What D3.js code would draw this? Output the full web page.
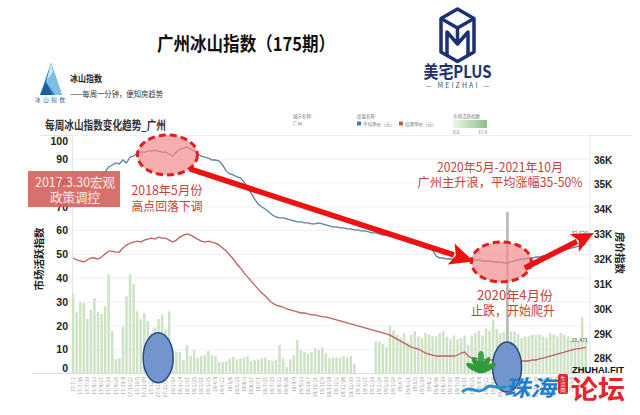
<!DOCTYPE html>
<html><head><meta charset="utf-8">
<script src="https://cdn.jsdelivr.net/npm/d3@7"></script>
<style>
html,body{margin:0;padding:0;background:#fff;}
svg{display:block;font-family:"Noto Sans CJK SC","Noto Sans",sans-serif;}
</style></head><body>
<svg id="c" width="640" height="415"></svg>
<script>
// ---------------- data ----------------
const startWeek = "2017-07-02";
const activity = [33.5,25.7,30,29.7,22.9,26.7,31.7,26,25,28.3,
41.7,17.9,6,6.4,19.7,32.4,41.7,37.6,26.1,22.9,
25.3,22.1,17,19.3,22.9,24.7,18.6,26.1,10,9,
9.1,5.6,12,7.3,10,6.7,7.3,7.7,9.6,7.7,
7.3,4.9,4.9,5.3,6.3,7,5.9,6.3,6.7,7.3,
5.3,5.6,5.9,6.3,6.7,5.6,5.3,5.9,12,6.3,
2.7,5.9,7.7,14.1,9.9,9.1,8.4,9.1,10.6,9.9,
11,8.4,6.5,6.7,6.7,6.7,7.3,6.7,7.3,4.1,
0,0,0,0,0,13.4,13.4,12.4,11.3,20.1,
18.1,16.3,14.9,17,13.4,16.3,17.7,15.6,14.9,17,
16.3,15.6,15.6,17,17.7,15.6,14.4,16,14.4,15,
16,12,16,17,18,16,19,18,22.7,18.7,
17,17.7,68,17.7,17.7,16.7,14.9,15.6,15.6,16.3,
16.3,16.3,15.6,15,17,16.3,15.6,17,16.3,15.6,
14.1,14,13.5,23.7,15];
const avgPrice = [null,null,null,null,null,null,null,null,35320,35520,
35720,35800,35880,35840,36000,35880,36120,36160,36280,36320,
36320,36360,36360,36400,36360,36320,36320,36240,36160,36320,
36440,36480,36520,36440,36360,36240,36160,36120,36080,36000,
36000,35960,35800,35560,35440,35400,35320,35280,35120,34910,
34670,34430,34230,34110,34030,33910,33790,33710,33670,33670,
33630,33590,33550,33510,33510,33470,33470,33430,33430,33470,
33430,33390,33350,33310,33310,33270,33270,33230,33230,33190,
33190,33150,33150,33110,33070,33070,33030,32980,32980,32940,
32900,32900,32860,32820,32780,32740,32700,32660,32620,32540,
32460,32380,32140,32060,32060,32020,32020,32020,31980,31980,
31980,31980,31980,31980,31980,31940,31940,31940,31900,31900,
31900,31860,31860,31900,31940,31980,32020,32020,32060,32060,
32100,32100,32140,32140,32180,32220,32260,32340,32380,32420,
32460,32500,32540,32580,32620];
const listPrice = [32060,31980,31940,31900,31980,32060,32060,32020,32100,32220,
32340,32340,32300,32300,32460,32580,32660,32700,32740,32700,
32780,32820,32860,32820,32900,32860,32860,32780,32700,32780,
32900,32980,33030,32980,32900,32820,32740,32700,32740,32700,
32660,32580,32460,32340,32180,32020,31820,31660,31460,31300,
31140,30970,30810,30650,30530,30370,30250,30170,30130,30090,
30010,29970,29930,29890,29850,29850,29810,29770,29770,29730,
29690,29690,29650,29610,29570,29530,29490,29450,29410,29370,
29330,29290,29250,29210,29170,29130,29090,29050,29010,28960,
28880,28800,28720,28640,28560,28480,28440,28400,28320,28240,
28200,28160,28120,28120,28120,28120,28120,28120,28160,28240,
28280,28120,28040,28040,28000,28000,27960,27960,27960,27920,
27920,27920,27920,27920,27920,27920,27920,27920,27920,27960,
27960,28000,28040,28080,28120,28160,28200,28240,28280,28320,
28360,28400,28420,28440,28471];
const highlightedWeek = 122;
const leftTicks = [0,10,20,30,40,50,60,70,80,90,100];
const rightTicks = [28000,29000,30000,31000,32000,33000,34000,35000,36000];
const rightTickLabels = ["28K","29K","30K","31K","32K","33K","34K","35K","36K"];
const weeks = d3.range(activity.length).map(i => d3.timeFormat("%y/%-m/%-d")(d3.timeWeek.offset(d3.timeParse("%Y-%m-%d")(startWeek), i)));

// ---------------- scales ----------------
const svg = d3.select("#c");
const x = d3.scaleBand().domain(d3.range(activity.length)).range([71.3, 587.5]).paddingInner(0.3).paddingOuter(0.15);
const yL = d3.scaleLinear().domain([0, 100]).range([373.5, 135.5]);
const yR = d3.scaleLinear().domain([27417, 36985]).range([373.5, 135.5]);
const cx = i => x(0) + x.bandwidth()/2 + i * x.step();

// header
svg.append("text").attr("x",246).attr("y",51).attr("text-anchor","middle")
  .attr("font-size",19).attr("font-weight","bold").attr("fill","#111")
  .attr("textLength",178).attr("lengthAdjust","spacingAndGlyphs").text("广州冰山指数（175期）");

// right logo
const navy = "#1d3170";
const lg = svg.append("g").attr("fill","none").attr("stroke",navy).attr("stroke-width",3.5).attr("stroke-linejoin","round");
lg.append("path").attr("d","M457.5,9 L474,18.5 L474,52 L457.5,61.5 L441,52 L441,18.5 Z");
lg.append("path").attr("d","M441,18.5 L457.5,28 L474,18.5 M447,55 L447,32 L457.5,44 L468,32 L468,55 M457.5,28 L457.5,44");
svg.append("text").attr("x",457.5).attr("y",78).attr("text-anchor","middle").attr("font-size",17).attr("font-weight","bold")
  .attr("fill",navy).attr("textLength",68).attr("lengthAdjust","spacingAndGlyphs").text("美宅PLUS");
svg.append("text").attr("x",457.5).attr("y",88).attr("text-anchor","middle").attr("font-size",7)
  .attr("fill","#44507a").attr("textLength",64).attr("lengthAdjust","spacing").text("— MEIZHAI —");

// left logo (iceberg)
const ic = svg.append("g");
ic.append("path").attr("d","M51,63 L40,95 L62,95 Z").attr("fill","#2b7cc0");
ic.append("path").attr("d","M51,63 L46,82 L55,95 L62,95 Z").attr("fill","#7fbfe6");
ic.append("path").attr("d","M51,63 L53,72 L47,80 Z").attr("fill","#cfe8f7");
ic.append("path").attr("d","M40,95 L46,82 L52,95 Z").attr("fill","#1d5f9c");
svg.append("text").attr("x",50).attr("y",102).attr("text-anchor","middle").attr("font-size",5.5).attr("fill","#2b5e9a").attr("textLength",30).text("冰 山 指 数");
svg.append("text").attr("x",70).attr("y",82).attr("font-size",9).attr("font-weight","bold").attr("fill","#222").attr("textLength",32).attr("lengthAdjust","spacingAndGlyphs").text("冰山指数");
svg.append("text").attr("x",70).attr("y",97).attr("font-size",8).attr("fill","#333").attr("textLength",93).attr("lengthAdjust","spacingAndGlyphs").text("——每周一分钟，便知房趋势");

// chart title + legend
svg.append("text").attr("x",45).attr("y",130).attr("font-size",12.5).attr("font-weight","bold").attr("fill","#333")
  .attr("textLength",121).attr("lengthAdjust","spacingAndGlyphs").text("每周冰山指数变化趋势_广州");
const tiny = (t,xx,yy,anchor) => svg.append("text").attr("x",xx).attr("y",yy).attr("font-size",4.5).attr("fill","#777").attr("text-anchor",anchor||"start").text(t);
tiny("城市名称:",293,118); tiny("广州",293,125);
tiny("度量名称",357,118);
svg.append("rect").attr("x",357).attr("y",121.5).attr("width",4).attr("height",4).attr("fill","#4e79a7");
tiny("平均单价（元）",363,125.5);
svg.append("rect").attr("x",399).attr("y",121.5).attr("width",4).attr("height",4).attr("fill","#d9534f");
tiny("挂牌单价（元）",405,125.5);
tiny("市场活跃指数",453,118);
const grad = svg.append("defs").append("linearGradient").attr("id","gr");
grad.append("stop").attr("offset","0").attr("stop-color","#eef6e8");
grad.append("stop").attr("offset","1").attr("stop-color","#8cbf84");
svg.append("rect").attr("x",453).attr("y",120).attr("width",34).attr("height",8).attr("fill","url(#gr)");
tiny("0.0",453,134); tiny("17.4",487,134,"end");

// frame lines
svg.append("line").attr("x1",40).attr("x2",632).attr("y1",135.5).attr("y2",135.5).attr("stroke","#e6e6e6");

// gridlines
svg.append("g").selectAll("line").data(leftTicks.slice(1)).join("line")
  .attr("x1",72).attr("x2",590).attr("y1",d=>yL(d)).attr("y2",d=>yL(d)).attr("stroke","#f1f1f1");
svg.append("line").attr("x1",32).attr("x2",600).attr("y1",yL(0)).attr("y2",yL(0)).attr("stroke","#dcdcdc");
svg.append("line").attr("x1",72.5).attr("x2",72.5).attr("y1",135.5).attr("y2",yL(0)).attr("stroke","#e3e3e3");
svg.append("line").attr("x1",590).attr("x2",590).attr("y1",135.5).attr("y2",yL(0)).attr("stroke","#e3e3e3");

// left axis labels
svg.append("g").selectAll("text").data(leftTicks).join("text")
  .attr("x",68).attr("y",d => d===100 ? yL(d)+5.5 : d===0 ? yL(d)-5.5 : yL(d))
  .attr("dy","0.35em").attr("text-anchor","end").attr("font-size",10.5).attr("font-weight","bold")
  .attr("font-family","Liberation Sans, Arial, sans-serif").attr("fill","#222").text(d=>d);
// right axis labels
svg.append("g").selectAll("text").data(rightTicks).join("text")
  .attr("x",594).attr("y",d=>yR(d)).attr("dy","0.35em").attr("font-size",10).attr("font-weight","bold")
  .attr("font-family","Liberation Sans, Arial, sans-serif").attr("fill","#222").text((d,i)=>rightTickLabels[i]);
// axis titles
svg.append("text").attr("transform","translate(43,259) rotate(-90)").attr("text-anchor","middle")
  .attr("font-size",10.5).attr("font-weight","bold").attr("fill","#222").text("市场活跃指数");
svg.append("text").attr("transform","translate(616,253) rotate(90)").attr("text-anchor","middle")
  .attr("font-size",10.5).attr("font-weight","bold").attr("fill","#222").text("房价指数");

// x labels
svg.append("g").selectAll("text").data(weeks.filter((d,i)=>i%2===0)).join("text")
  .attr("transform",(d,i)=>`translate(${cx(i*2)+1.8},377) rotate(-90)`)
  .attr("text-anchor","end").attr("font-size",5).attr("fill","#9a9a9a").text(d=>d);

// bars
svg.append("g").selectAll("rect").data(activity).join("rect")
  .attr("x",(d,i)=>x(i)).attr("width",x.bandwidth())
  .attr("y",d=>yL(d)).attr("height",d=>yL(0)-yL(d))
  .attr("fill",(d,i)=> i===highlightedWeek ? "#b4b4b4" : "#cde3c3");

// lines
const line = d3.line().defined(d=>d!=null).x((d,i)=>cx(i)).y(d=>yR(d));
svg.append("path").datum(listPrice).attr("d",line).attr("fill","none").attr("stroke","#c0605e").attr("stroke-width",1.3);
svg.append("path").datum(avgPrice).attr("d",line).attr("fill","none").attr("stroke","#5a7fa8").attr("stroke-width",1.3);
// end labels
svg.append("text").attr("x",cx(avgPrice.length-1)-6).attr("y",yR(avgPrice[avgPrice.length-1])-9).attr("text-anchor","middle")
  .attr("font-size",5.5).attr("fill","#666").text(d3.format(",")(avgPrice[avgPrice.length-1]));
svg.append("text").attr("x",cx(listPrice.length-1)-6).attr("y",yR(listPrice[listPrice.length-1])-5).attr("text-anchor","middle")
  .attr("font-size",5.5).attr("fill","#666").text(d3.format(",")(listPrice[listPrice.length-1]));

// ---------------- annotations ----------------
const red = "#c8423c";
// box
svg.append("rect").attr("x",28).attr("y",171).attr("width",92).attr("height",36).attr("fill","#d4615c").attr("opacity",0.9);
svg.append("text").attr("x",75).attr("y",187).attr("text-anchor","middle").attr("font-size",13).attr("fill","#fde9e7")
  .attr("textLength",80).attr("lengthAdjust","spacingAndGlyphs").text("2017.3.30宏观");
svg.append("text").attr("x",75).attr("y",201.5).attr("text-anchor","middle").attr("font-size",13).attr("fill","#fde9e7")
  .attr("textLength",50).attr("lengthAdjust","spacingAndGlyphs").text("政策调控");

// pink ellipses
const pink = (i,v,rx,ry) => svg.append("ellipse").attr("cx",cx(i)).attr("cy",yR(v)).attr("rx",rx).attr("ry",ry)
  .attr("fill","#f28c8c").attr("fill-opacity",0.7).attr("stroke","#e01e1e").attr("stroke-width",3).attr("stroke-dasharray","7,4");
pink(26.5,36200,30,20);
pink(120.3,31900,30,20);

// arrows
function arrow(i0,v0,i1,v1,hl,hw){
  const x0=cx(i0),y0=yR(v0),x1=cx(i1),y1=yR(v1);
  const L=Math.hypot(x1-x0,y1-y0), ux=(x1-x0)/L, uy=(y1-y0)/L;
  const bx=x1-ux*hl, by=y1-uy*hl;
  svg.append("line").attr("x1",x0).attr("y1",y0).attr("x2",bx+ux*3).attr("y2",by+uy*3).attr("stroke","#ee1111").attr("stroke-width",5.5);
  svg.append("path").attr("d",`M${x1},${y1} L${bx-uy*hw},${by+ux*hw} L${bx+ux*5},${by+uy*5} L${bx+uy*hw},${by-ux*hw} Z`).attr("fill","#ee1111");
}
arrow(32.8,35640,112.6,31920,24,11);
arrow(126.9,31660,146.3,33070,22,10);

// annotation texts
const ann = (t,xx,yy,fs,w) => svg.append("text").attr("x",xx).attr("y",yy).attr("text-anchor","middle").attr("font-size",fs)
  .attr("fill",red).attr("textLength",w).attr("lengthAdjust","spacingAndGlyphs").text(t);
ann("2018年5月份",167,195,12.5,71);
ann("高点回落下调",167,211,12.5,71);
ann("2020年5月-2021年10月",500,172,12.5,126);
ann("广州主升浪，平均涨幅35-50%",500,187,12.5,165);
ann("2020年4月份",515,299.5,13,76);
ann("止跌，开始爬升",513,314.5,13,84);

// blue ellipses
const blueE = (i,v,rx,ry) => svg.append("ellipse").attr("cx",cx(i)).attr("cy",yL(v)).attr("rx",rx).attr("ry",ry)
  .attr("fill","#7196cd").attr("stroke","#2b4a7e").attr("stroke-width",1.5);
blueE(23.9,6.6,15,25);
blueE(121.9,2.7,14.5,25);

// watermark
const wm = svg.append("g");
[-60,-30,0,30,60].forEach(a=>{
  wm.append("ellipse").attr("cx",0).attr("cy",-8).attr("rx",3).attr("ry",9).attr("fill","#2f9a3a")
    .attr("transform",`translate(481,372) rotate(${a})`);
});
wm.append("ellipse").attr("cx",481).attr("cy",356).attr("rx",3).attr("ry",5).attr("fill","#3aa845");
wm.append("path").attr("d","M462,392 C470,384 478,396 486,388 C492,382 500,392 506,386").attr("fill","none").attr("stroke","#2a8fd0").attr("stroke-width",3);
wm.append("text").attr("x",504).attr("y",396).attr("font-size",22).attr("font-weight","bold").attr("font-style","italic")
  .attr("fill","#1f7fcf").attr("textLength",52).attr("lengthAdjust","spacingAndGlyphs").text("珠海");
wm.append("rect").attr("x",558).attr("y",374).attr("width",10).attr("height",20).attr("rx",2).attr("fill","#e3262d");
wm.append("text").attr("x",563).attr("y",380).attr("text-anchor","middle").attr("font-size",5).attr("fill","#fff").text("生");
wm.append("text").attr("x",563).attr("y",386).attr("text-anchor","middle").attr("font-size",5).attr("fill","#fff").text("活");
wm.append("text").attr("x",563).attr("y",392).attr("text-anchor","middle").attr("font-size",5).attr("fill","#fff").text("网");
wm.append("text").attr("x",571).attr("y",399).attr("font-size",26).attr("font-weight","bold")
  .attr("fill","#e3262d").attr("textLength",54).attr("lengthAdjust","spacingAndGlyphs").text("论坛");
wm.append("text").attr("x",572).attr("y",373).attr("font-size",9.5).attr("font-weight","bold").attr("font-family","Liberation Sans, Arial, sans-serif")
  .attr("fill","#111").attr("textLength",52).attr("lengthAdjust","spacingAndGlyphs").text("ZHUHAI.FIT");
</script>
</body></html>
